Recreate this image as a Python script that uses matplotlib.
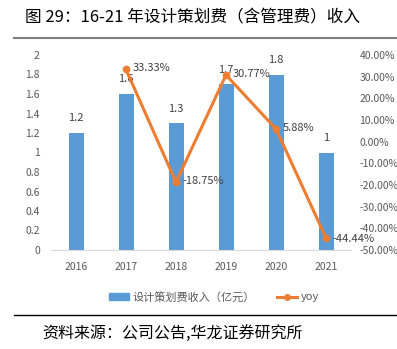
import matplotlib
matplotlib.use("Agg")
import matplotlib.pyplot as plt
from matplotlib.lines import Line2D
import numpy as np

plt.rcParams['font.family'] = ['Noto Sans CJK SC', 'DejaVu Sans']

years = ['2016', '2017', '2018', '2019', '2020', '2021']
revenue = [1.2, 1.6, 1.3, 1.7, 1.8, 1.0]
rev_labels = ['1.2', '1.6', '1.3', '1.7', '1.8', '1']
yoy = [None, 33.33, -18.75, 30.77, 5.88, -44.44]

bar_color = '#5B9BD5'
line_color = '#ED7D31'
tick_color = '#595959'

W, H = 397, 349
fig = plt.figure(figsize=(W / 100, H / 100), dpi=100)

def fx(px):
    return px / W

def fy(py):
    return 1 - py / H

ax = fig.add_axes([fx(51), fy(250), fx(300), fy(55) - fy(250)])
x = np.arange(len(years))
ax.bar(x, revenue, width=0.3, color=bar_color, zorder=2)
ax.set_xlim(-0.5, len(years) - 0.5)
ax.set_ylim(0, 2)
ax.set_yticks(np.arange(0, 2.01, 0.2))
ax.set_yticklabels(['0', '0.2', '0.4', '0.6', '0.8', '1', '1.2', '1.4', '1.6', '1.8', '2'])
ax.set_xticks(x)
ax.set_xticklabels(years)
for s in ['top', 'right', 'left']:
    ax.spines[s].set_visible(False)
ax.spines['bottom'].set_color('#D9D9D9')
ax.tick_params(axis='both', length=0, colors=tick_color, labelsize=7.5)
ax.tick_params(axis='x', pad=9)
ax.tick_params(axis='y', pad=8)
for xi, v, lab in zip(x, revenue, rev_labels):
    ax.annotate(lab, (xi, v), xytext=(0, 7), textcoords='offset points',
                ha='center', va='bottom', fontsize=8, color='#404040')

ax2 = ax.twinx()
yx = [xi for xi, v in zip(x, yoy) if v is not None]
yv = [v for v in yoy if v is not None]
ax2.plot(yx, yv, color=line_color, lw=2.2, marker='o', ms=4.5, zorder=3)
ax2.set_ylim(-50, 40)
ax2.set_yticks(np.arange(-50, 41, 10))
ax2.set_yticklabels(['%.2f%%' % t for t in np.arange(-50, 41, 10)])
for s in ['top', 'right', 'left', 'bottom']:
    ax2.spines[s].set_visible(False)
ax2.tick_params(axis='y', length=0, colors=tick_color, labelsize=7.5, pad=6)
for xi, v in zip(yx, yv):
    dy = -1 if v < -40 else 1
    ax2.annotate('%.2f%%' % v, (xi, v), xytext=(5, dy), textcoords='offset points',
                 ha='left', va='center', fontsize=8, color='#404040')

handles = [plt.Rectangle((0, 0), 1, 1, color=bar_color),
           Line2D([0], [0], color=line_color, lw=2.2, marker='o', ms=4)]
fig.legend(handles, ['设计策划费收入（亿元）', 'yoy'], loc='center',
           bbox_to_anchor=(fx(214), fy(297)), ncol=2, frameon=False,
           fontsize=8, labelcolor=tick_color, handlelength=1.8,
           handleheight=0.6, columnspacing=2.0, handletextpad=0.3)

fig.text(fx(25), fy(18), '图 29：16-21 年设计策划费（含管理费）收入',
         fontsize=12, ha='left', va='center', color='#000000')
fig.add_artist(Line2D([fx(14), fx(397)], [fy(37.5), fy(37.5)], color='#808080', lw=1.5))
fig.add_artist(Line2D([fx(14), fx(397)], [fy(315), fy(315)], color='#000000', lw=1.0))
fig.text(fx(42), fy(333), '资料来源：公司公告,华龙证券研究所',
         fontsize=11.5, ha='left', va='center', color='#000000')

fig.savefig('out.png', dpi=100)
